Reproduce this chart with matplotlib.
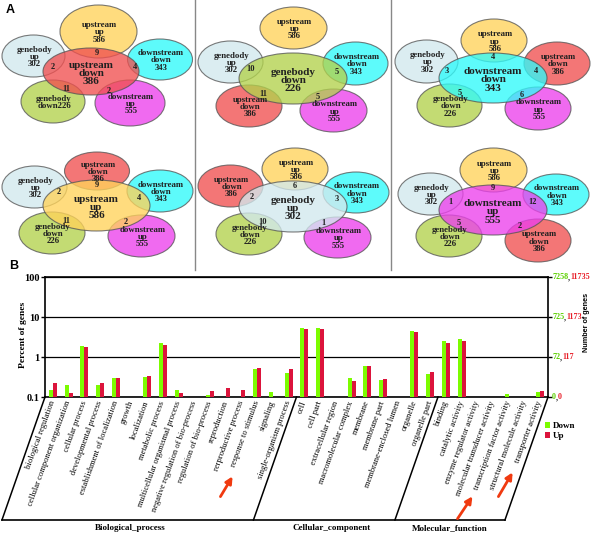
import numpy as np
import matplotlib
matplotlib.use("Agg")
import matplotlib.pyplot as plt
from matplotlib.patches import Ellipse

SERIF = "Liberation Serif"
SANS = "Liberation Sans"

# ---- panel B data (percent of genes, log scale) ----
categories = [
    "biological regulation", "cellular component organization", "cellular process",
    "developmental process", "establishment of localization", "growth", "localization",
    "metabolic process", "multicellular organismal process",
    "negative regulation of bio-process", "regulation of bio-process", "reproduction",
    "rerproductive process", "response to stimulus", "signaling", "single-organism process",
    "cell", "cell part", "extracellular region", "macromolecular complex", "membrane",
    "membrane part", "membrane-enclosed lumen", "organelle", "organelle part",
    "binding", "catalytic activity", "enzyme regulator activity",
    "molecular transducer activity", "transcription factor activity",
    "structural molecule activity", "transporter activity",
]
down = [0.147, 0.203, 1.88, 0.20, 0.30, 0, 0.31, 2.28, 0.147, 0, 0.11, 0, 0, 0.51, 0.133, 0.39,
        5.25, 5.25, 0, 0.30, 0.58, 0.26, 0, 4.5, 0.38,
        2.5, 2.75, 0, 0, 0.121, 0, 0.133]
up = [0.228, 0.128, 1.78, 0.228, 0.305, 0, 0.335, 2.03, 0.125, 0, 0.141, 0.168, 0.152, 0.54, 0, 0.49,
      4.95, 5.0, 0, 0.25, 0.58, 0.29, 0, 4.3, 0.42,
      2.3, 2.45, 0, 0, 0, 0, 0.144]
groups = ["Biological_process", "Cellular_component", "Molecular_function"]
group_sizes = [16, 9, 7]
pct_ticks = [0.1, 1, 10, 100]
count_down = ["0", "72", "725", "7258"]
count_up = ["0", "117", "1173", "11735"]

# ---- panel A data (six venn diagrams) ----
set_text = {
    "UU": "upstream\nup\n586", "UD": "upstream\ndown\n386",
    "GU": "genebody\nup\n302", "GD": "genebody\ndown\n226",
    "DU": "downstream\nup\n555", "DD": "downstream\ndown\n343",
}
set_color = {"UU": "#FFD35A", "UD": "#F05050", "GU": "#D2E9EE",
             "GD": "#B2D24C", "DU": "#EC40EC", "DD": "#30FAFA"}
# center set, then surrounding sets: top, upper-left, upper-right, lower-left, lower-right
venn_sets = [
    ["UD", "UU", "GU", "DD", "GD", "DU"],
    ["GD", "UU", "GU", "DD", "UD", "DU"],
    ["DD", "UU", "GU", "UD", "GD", "DU"],
    ["UU", "UD", "GU", "DD", "GD", "DU"],
    ["GU", "UU", "UD", "DD", "GD", "DU"],
    ["DU", "UU", "GU", "DD", "GD", "UD"],
]
venn_overlaps = [
    ["9", "2", "4", "11", "2"],
    ["", "10", "5", "11", "5"],
    ["4", "3", "4", "5", "6"],
    ["9", "2", "4", "11", "2"],
    ["6", "2", "3", "10", "1"],
    ["9", "1", "12", "5", "2"],
]
label_override = {(0, 4): "genebody\ndown226", (1, 2): "genedody\nup\n302",
                  (5, 2): "genedody\nup\n302"}

# layout: ellipse (cx, cy, w, h) in pixel coords, order as venn_sets
venn_geom = [
    [(91, 71.5, 96, 47), (98.5, 31.5, 77, 53), (33.5, 56, 63, 42), (160, 59.5, 65, 41),
     (53, 101.5, 64, 43), (130, 103, 70, 46)],
    [(293, 78.5, 108, 51), (293.5, 28, 67, 42), (230.5, 62, 65, 42), (355.5, 63.5, 65, 43),
     (249, 106, 66, 42), (333.5, 110.5, 67, 43)],
    [(493, 78, 108, 50), (494, 40.5, 66, 43), (426.5, 61.5, 63, 43), (557, 63.5, 66, 43),
     (449.5, 105.5, 65, 43), (538, 108.5, 66, 43)],
    [(96.5, 205.5, 107, 51), (97, 171, 65, 38), (34.5, 187, 65, 42), (160, 191, 66, 42),
     (52, 233, 66, 42), (141.5, 236, 67, 42)],
    [(293, 206.5, 108, 51), (295, 169, 66, 42), (230.5, 186, 65, 42), (356, 192.5, 66, 41),
     (249, 234, 66, 42), (337.5, 237.5, 67, 41)],
    [(493, 210, 108, 50), (493.5, 170, 67, 44), (430.5, 194, 65, 42), (556, 194.5, 66, 41),
     (449, 236, 66, 42), (538, 240.5, 66, 43)],
]
overlap_pos = [
    [(97, 53), (53, 67), (135, 67), (66, 89), (109, 91)],
    [(0, 0), (251, 69), (337, 72), (263, 94), (318, 97)],
    [(493, 57), (447, 71), (536, 71), (460, 93), (522, 95)],
    [(97, 185), (59, 192), (139, 198), (66, 221), (126, 222)],
    [(295, 186), (252, 197), (337, 199), (263, 222), (323, 223)],
    [(493, 188), (450, 202), (533, 202), (459, 223), (520, 226)],
]

W, H = 595, 537
fig = plt.figure(figsize=(W / 100, H / 100), dpi=100)

# ---------------- panel B ----------------
ax = fig.add_axes([45 / W, 1 - 397 / H, 503 / W, 120 / H])
ax.set_facecolor("none")
x = np.arange(len(categories))
bw = 0.255
dv = np.array(down, dtype=float)
uv = np.array(up, dtype=float)
b1 = ax.bar(x - bw / 2, np.where(dv > 0, dv - 0.1, 0), bottom=0.1, width=bw,
            color="#7CFC00", zorder=3)
b2 = ax.bar(x + bw / 2, np.where(uv > 0, uv - 0.1, 0), bottom=0.1, width=bw,
            color="#DC143C", zorder=3)
ax.set_yscale("log")
ax.set_ylim(0.1, 100)
ax.set_xlim(-0.5, len(categories) - 0.5)
ax.yaxis.set_minor_locator(matplotlib.ticker.NullLocator())
ax.set_yticks(pct_ticks)
ax.set_yticklabels(["0.1", "1", "10", "100"], family=SERIF, weight="bold", fontsize=7.5)
ax.grid(axis="y", which="major", color="k", lw=0.9, zorder=1)
ax.tick_params(axis="y", which="major", length=3, width=1, right=True, pad=1)
ax.set_xticks(x)
ax.set_xticklabels(categories, rotation=70, ha="right", va="center",
                   rotation_mode="anchor", family=SERIF, fontsize=6.1)
ax.tick_params(axis="x", length=0, pad=3)
for s in ax.spines.values():
    s.set_linewidth(1.2)

# right axis labels: down count (green), comma, up count (red)
for v, cd, cu in zip(pct_ticks, count_down, count_up):
    t1 = ax.text(1.008, v, cd, transform=ax.get_yaxis_transform(), color="#5CD000",
                 family=SERIF, weight="bold", fontsize=5.8, ha="left", va="center")
    t2 = ax.annotate(",", xy=(1, 0.5), xycoords=t1, color="#222222", family=SERIF,
                     weight="bold", fontsize=5.8, ha="left", va="center")
    ax.annotate(cu, xy=(1, 0.5), xycoords=t2, color="#E8202A", family=SERIF,
                weight="bold", fontsize=5.8, ha="left", va="center")

fig.text(23 / W, 1 - 335 / H, "Percent of genes", rotation=90, ha="center", va="center",
         family=SERIF, weight="bold", fontsize=6.8)
fig.text(587 / W, 1 - 322 / H, "Number of genes", rotation=90, ha="center", va="center",
         family=SANS, weight="bold", fontsize=5.2)
ax.legend([b1, b2], ["Down", "Up"], loc="upper left", bbox_to_anchor=(545 / W, 1 - 422 / H),
          bbox_transform=fig.transFigure, frameon=False, handlelength=0.6, handleheight=0.6,
          handletextpad=0.3, labelspacing=0.25, borderaxespad=0, borderpad=0,
          prop={"family": SERIF, "weight": "bold", "size": 6.5})

# ---------------- decorations & panel A ----------------
deco = fig.add_axes([0, 0, 1, 1], zorder=2)
deco.set_xlim(0, W)
deco.set_ylim(H, 0)
deco.axis("off")

deco.text(10, 10, "A", family=SANS, weight="bold", fontsize=9, ha="center", va="center")
deco.text(14, 266, "B", family=SANS, weight="bold", fontsize=9, ha="center", va="center")
for sx in (195, 391):
    deco.plot([sx, sx], [0, 270], color="#888888", lw=1)

for p in range(6):
    for k in [1, 2, 3, 4, 5, 0]:
        key = venn_sets[p][k]
        cx, cy, w, h = venn_geom[p][k]
        deco.add_patch(Ellipse((cx, cy), w, h, facecolor=set_color[key], alpha=0.78,
                               edgecolor="#555555", lw=0.8))
    for k in range(6):
        key = venn_sets[p][k]
        cx, cy, w, h = venn_geom[p][k]
        txt = label_override.get((p, k), set_text[key])
        big = k == 0
        deco.text(cx + (0 if big else 1), cy + (2 if big else 1), txt, ha="center", va="center",
                  family=SERIF, weight="bold", fontsize=8 if big else 6.3,
                  linespacing=0.88, color="#202020")
    for n, (ox, oy) in zip(venn_overlaps[p], overlap_pos[p]):
        if n:
            deco.text(ox, oy, n, ha="center", va="center", family=SERIF,
                      weight="bold", fontsize=6, color="#202020")

# group brackets below the category labels
x0 = 45
bounds = [x0]
for n in group_sizes:
    bounds.append(bounds[-1] + n * 503 / len(categories))
slope = 0.35
for bx in bounds:
    deco.plot([bx, bx - slope * 123], [397, 520], color="k", lw=1.1)
deco.plot([bounds[0] - slope * 123, bounds[-1] - slope * 123], [520, 520], color="k", lw=1.2)
for g, gx in zip(groups, [130, 332, 450]):
    deco.text(gx, 528, g, ha="center", va="center",
              family=SERIF, weight="bold", fontsize=6.5)

# red arrows
for tail, head in [((219, 499), (234, 474)), ((456, 521), (474, 494)), ((497, 499), (514, 470))]:
    deco.annotate("", xy=head, xytext=tail,
                  arrowprops=dict(arrowstyle="-|>", color="#F03A10", lw=2.0, mutation_scale=10))

fig.savefig("out.png", dpi=100)
